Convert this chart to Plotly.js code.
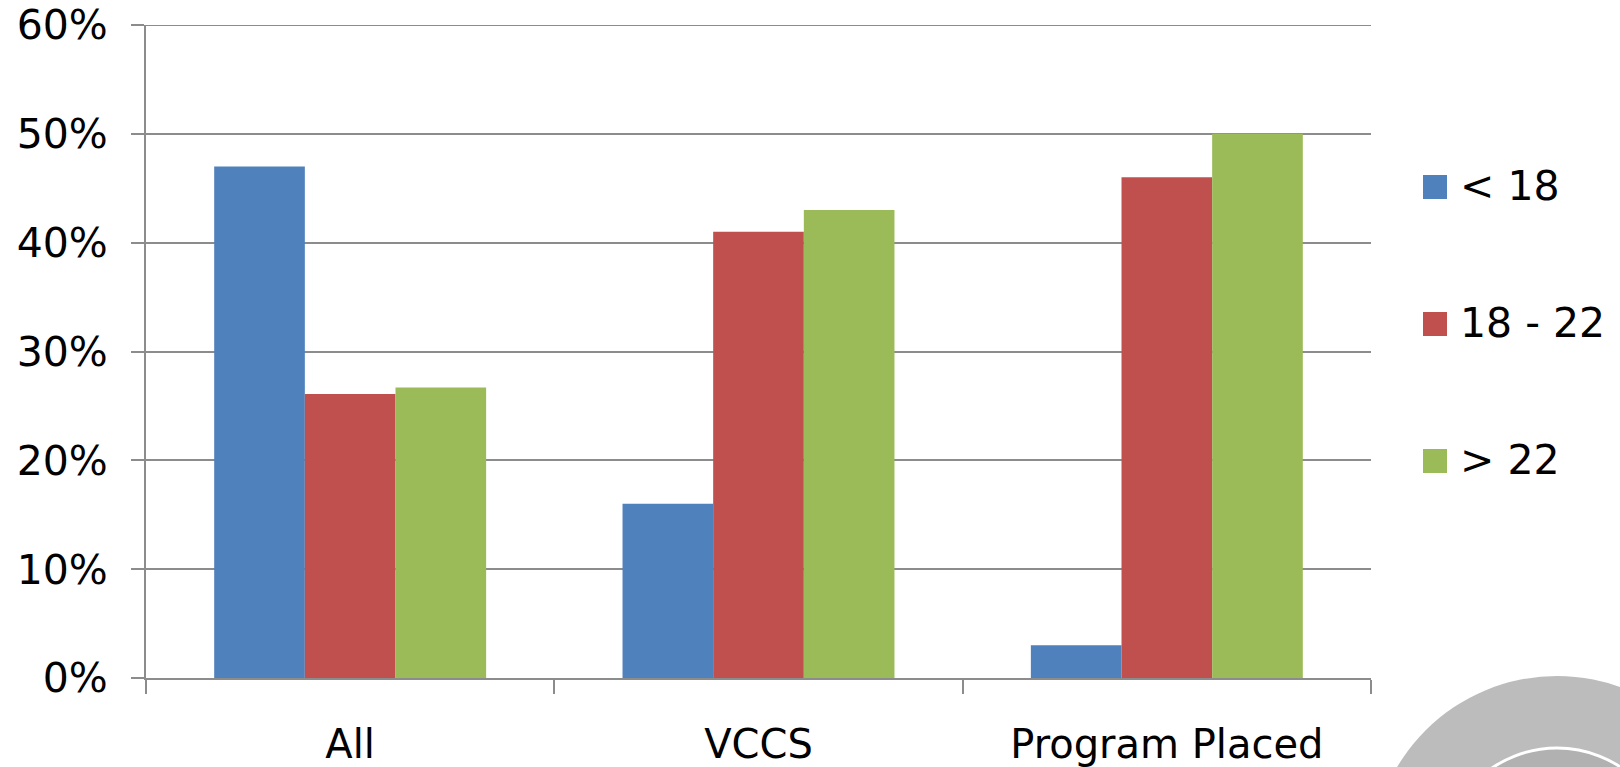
<!DOCTYPE html>
<html>
<head>
<meta charset="utf-8">
<script src="https://cdn.plot.ly/plotly-3.0.1.min.js"></script>
<style>html,body{margin:0;padding:0;background:#fff;}#chart{width:1620px;height:767px;}</style>
</head>
<body>
<div id="chart"></div>
<script>
var categories = ["All", "VCCS", "Program Placed"];
var seriesNames = ["< 18", "18 - 22", "> 22"];
var under18 = [0.47, 0.16, 0.03];
var age18to22 = [0.261, 0.41, 0.46];
var over22 = [0.267, 0.43, 0.50];
var seriesColors = ["#4F81BD", "#C0504D", "#9BBB59"];
var yTickVals = [0, 0.1, 0.2, 0.3, 0.4, 0.5, 0.6];
var yTickText = ["0%", "10%", "20%", "30%", "40%", "50%", "60%"];

var seriesValues = [under18, age18to22, over22];
var FONT = "DejaVu Sans, Verdana, sans-serif";
var GRID = "#8c8c8c";

var traces = seriesValues.map(function (vals, i) {
  return {
    type: "bar",
    name: seriesNames[i],
    x: categories,
    y: vals,
    marker: {color: seriesColors[i], line: {width: 0}},
    showlegend: false,
    hoverinfo: "x+y+name"
  };
});

// plot area: x 146..1371 px, y 25..678 px
var L = 146, R = 249, T = 25, B = 89, W = 1620 - L - R, H = 767 - T - B;
function px2x(px) { return (px - L) / W; }
function py2y(py) { return (767 - B - py) / H; }

var shapes = [];
var annotations = [];
var legendY = [187, 324, 461];
seriesNames.forEach(function (name, i) {
  shapes.push({
    type: "rect", xref: "paper", yref: "paper",
    x0: px2x(1423), x1: px2x(1447),
    y0: py2y(legendY[i] + 12), y1: py2y(legendY[i] - 12),
    fillcolor: seriesColors[i], line: {width: 0}
  });
  annotations.push({
    xref: "paper", yref: "paper",
    x: px2x(1458), y: py2y(legendY[i] - 1),
    xanchor: "left", yanchor: "middle",
    text: name, showarrow: false,
    font: {family: FONT, size: 41, color: "#000"}
  });
});

// top gridline at the range maximum
shapes.push({
  type: "line", xref: "paper", yref: "y",
  x0: 0, x1: 1, y0: yTickVals[yTickVals.length - 1], y1: yTickVals[yTickVals.length - 1],
  line: {color: GRID, width: 2}
});

// decorative circles bottom-right
shapes.push({
  type: "circle", xref: "paper", yref: "paper", layer: "below",
  x0: px2x(1371), x1: px2x(1743), y0: py2y(1048), y1: py2y(676),
  fillcolor: "#bcbcbc", line: {width: 0}
});
shapes.push({
  type: "circle", xref: "paper", yref: "paper", layer: "below",
  x0: px2x(1442), x1: px2x(1672), y0: py2y(977), y1: py2y(748),
  fillcolor: "#b1b1b1", line: {color: "#ffffff", width: 3}
});

var layout = {
  width: 1620, height: 767,
  margin: {l: L, r: R, t: T, b: B, pad: 0},
  paper_bgcolor: "#ffffff",
  plot_bgcolor: "rgba(0,0,0,0)",
  barmode: "group",
  bargap: 0.334,
  bargroupgap: 0,
  font: {family: FONT, size: 40, color: "#000"},
  xaxis: {
    type: "category",
    showgrid: false,
    showline: true, linecolor: GRID, linewidth: 2,
    ticks: "outside", tickson: "boundaries", ticklen: 14, tickcolor: GRID, tickwidth: 2,
    tickfont: {family: FONT, size: 40, color: "#000"},
    ticklabelstandoff: 30,
    fixedrange: true
  },
  yaxis: {
    range: [0, 0.6],
    tickvals: yTickVals, ticktext: yTickText,
    showgrid: true, gridcolor: GRID, gridwidth: 2,
    zeroline: false,
    showline: true, linecolor: GRID, linewidth: 2,
    ticks: "outside", ticklen: 13, tickcolor: GRID, tickwidth: 2,
    tickfont: {family: FONT, size: 41, color: "#000"},
    ticklabelstandoff: 15,
    fixedrange: true
  },
  shapes: shapes,
  annotations: annotations,
  showlegend: false
};

Plotly.newPlot("chart", traces, layout, {displayModeBar: false, staticPlot: true});
</script>
</body>
</html>
